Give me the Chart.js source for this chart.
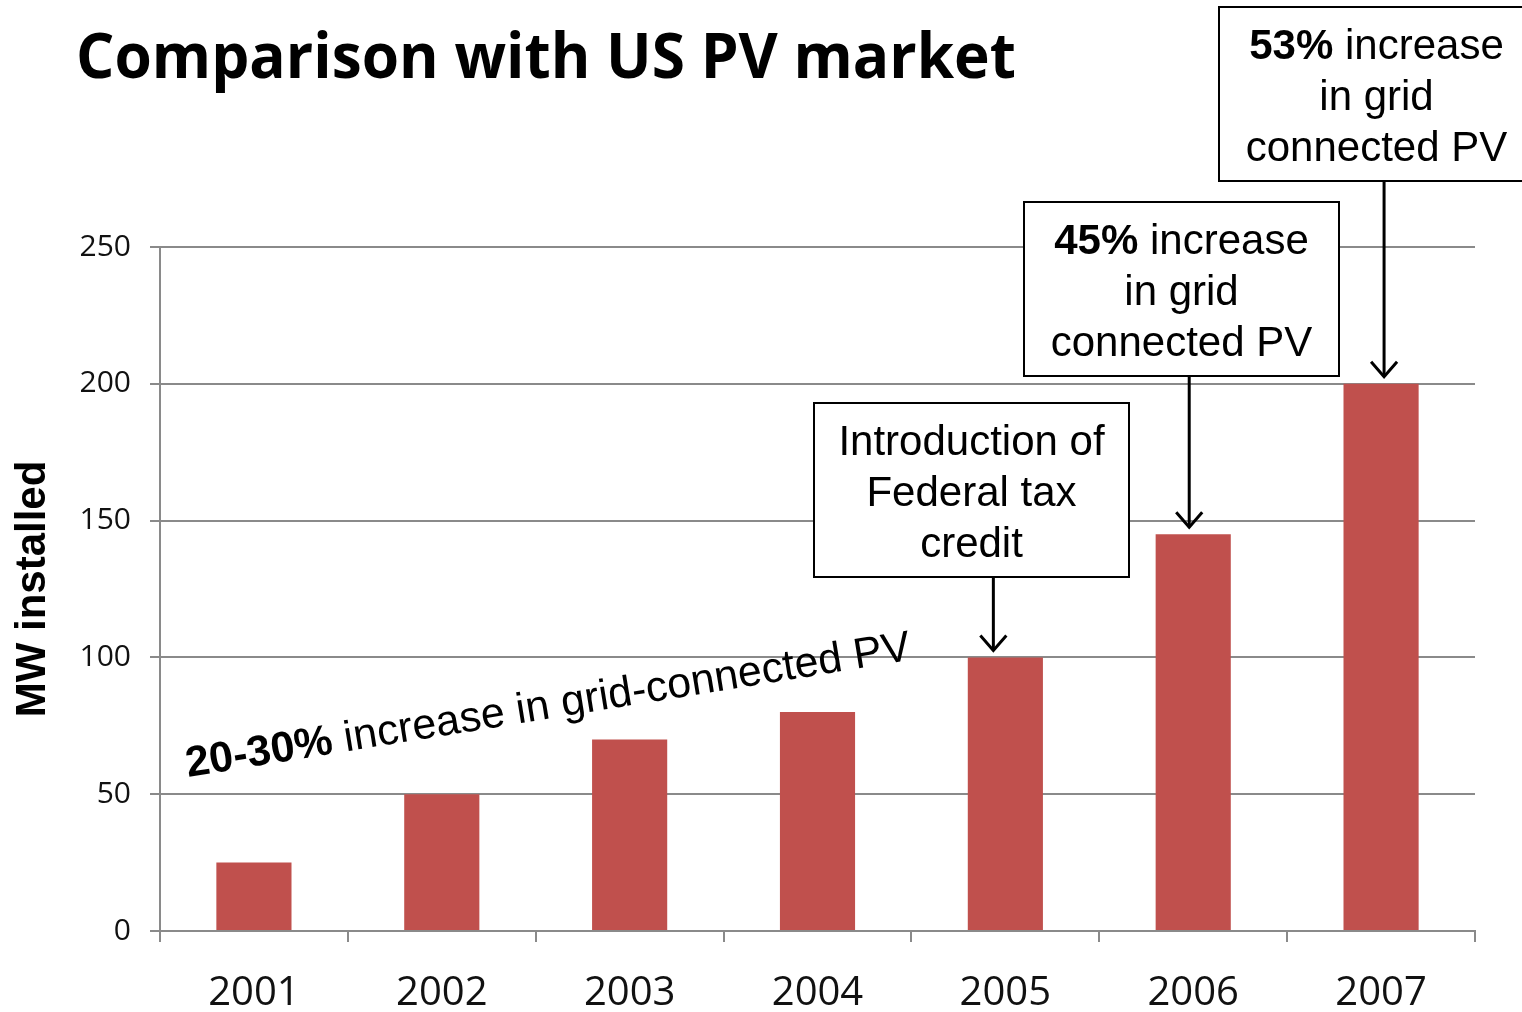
<!DOCTYPE html>
<html>
<head>
<meta charset="utf-8">
<script src="https://cdn.jsdelivr.net/npm/chart.js@4.4.0/dist/chart.umd.min.js"></script>
<style>
  html, body { margin: 0; padding: 0; background: #fff; }
  #wrap { width: 1522px; height: 1012px; position: relative; }
</style>
</head>
<body>
<div id="wrap"><canvas id="chart"></canvas></div>
<script>
    // ==================== DATA ====================
    const years = ['2001', '2002', '2003', '2004', '2005', '2006', '2007'];
    const mwInstalled = [25, 50, 70, 80, 100, 145, 200];
    const yTickValues = [0, 50, 100, 150, 200, 250];

    const chartTitle = 'Comparison with US PV market';
    const yAxisTitle = 'MW installed';
    const trendBold = '20-30%';
    const trendText = ' increase in grid-connected PV';

    // callouts: which year they point at, bold lead-in, then the lines
    const calloutYears = ['2005', '2006', '2007'];
    const calloutBold = ['', '45%', '53%'];
    const calloutLines = [
        ['Introduction of', 'Federal tax', 'credit'],
        [' increase', 'in grid', 'connected PV'],
        [' increase', 'in grid', 'connected PV']
    ];

    // ==================== STYLE ====================
    const BAR_RED = '#C0504D';
    const AXIS_GREY = '#8a8a8a';
    const ANNO_FONT = '"Liberation Sans", Arial, sans-serif';
    const TICK_FONT = '"Open Sans", "Noto Sans", sans-serif';

    // box placement (left, top) and arrow offset from the bar centre
    const boxLayout = [
        { left: 814, top: 403, dx: -12 },
        { left: 1024, top: 202, dx: -4 },
        { left: 1219, top: 7, dx: 3 }
    ];
    const BOX_W = 315, BOX_H = 174;

    function drawArrow(ctx, x, y1, y2) {
        ctx.beginPath();
        ctx.moveTo(x, y1);
        ctx.lineTo(x, y2);
        ctx.stroke();
        ctx.beginPath();
        ctx.moveTo(x - 13, y2 - 15);
        ctx.lineTo(x, y2);
        ctx.lineTo(x + 13, y2 - 15);
        ctx.stroke();
    }

    // draws "bold + regular" centred on cx
    function drawMixed(ctx, bold, text, cx, y, size) {
        ctx.font = `bold ${size}px ${ANNO_FONT}`;
        const wb = bold ? ctx.measureText(bold).width : 0;
        ctx.font = `${size}px ${ANNO_FONT}`;
        const wt = ctx.measureText(text).width;
        let x = cx - (wb + wt) / 2;
        ctx.textAlign = 'left';
        if (bold) {
            ctx.font = `bold ${size}px ${ANNO_FONT}`;
            ctx.fillText(bold, x, y);
            x += wb;
        }
        ctx.font = `${size}px ${ANNO_FONT}`;
        ctx.fillText(text, x, y);
    }

    const annotations = {
        id: 'annotations',
        afterDraw(chart) {
            const ctx = chart.ctx;
            const xs = chart.scales.x, ys = chart.scales.y;
            ctx.save();
            ctx.fillStyle = '#000';
            ctx.textBaseline = 'alphabetic';

            // title
            ctx.font = `bold 63px ${TICK_FONT}`;
            ctx.textAlign = 'left';
            ctx.fillText(chartTitle, 76, 78, 940);

            // callout boxes + arrows
            calloutYears.forEach((yr, i) => {
                const idx = years.indexOf(yr);
                const b = boxLayout[i];
                ctx.fillStyle = '#fff';
                ctx.fillRect(b.left, b.top, BOX_W, BOX_H);
                ctx.strokeStyle = '#000';
                ctx.lineWidth = 2;
                ctx.strokeRect(b.left, b.top, BOX_W, BOX_H);
                ctx.fillStyle = '#000';
                const cx = b.left + BOX_W / 2;
                calloutLines[i].forEach((line, j) => {
                    drawMixed(ctx, j === 0 ? calloutBold[i] : '', line, cx, b.top + 52 + j * 51, 42);
                });
                const ax = xs.getPixelForValue(idx) + b.dx;
                const tip = ys.getPixelForValue(mwInstalled[idx]) - 7;
                ctx.lineWidth = 3;
                drawArrow(ctx, ax, b.top + BOX_H, tip);
            });

            // slanted trend label
            ctx.translate(188, 777);
            ctx.rotate(-9.2 * Math.PI / 180);
            ctx.textAlign = 'left';
            ctx.font = `bold 43px ${ANNO_FONT}`;
            ctx.fillText(trendBold, 0, 0);
            const wb = ctx.measureText(trendBold).width;
            ctx.font = `43px ${ANNO_FONT}`;
            ctx.fillText(trendText, wb, 0);
            ctx.restore();
        }
    };

    // ==================== CHART ====================
    new Chart(document.getElementById('chart'), {
        type: 'bar',
        data: {
            labels: years,
            datasets: [{
                label: yAxisTitle,
                data: mwInstalled,
                backgroundColor: BAR_RED,
                borderWidth: 0,
                categoryPercentage: 1,
                barPercentage: 0.4
            }]
        },
        options: {
            responsive: true,
            maintainAspectRatio: false,
            animation: false,
            layout: { padding: { top: 247, right: 47, left: 0, bottom: 0 } },
            plugins: {
                legend: { display: false },
                tooltip: { enabled: false }
            },
            scales: {
                x: {
                    grid: {
                        offset: true,
                        drawOnChartArea: false,
                        drawTicks: true,
                        tickLength: 11,
                        color: AXIS_GREY,
                        lineWidth: 2
                    },
                    border: { display: true, color: AXIS_GREY, width: 2 },
                    ticks: {
                        color: '#111',
                        font: { family: TICK_FONT, size: 40 },
                        padding: 28,
                        maxRotation: 0
                    },
                    afterFit(scale) { scale.height = 81; }
                },
                y: {
                    min: 0,
                    max: 250,
                    afterBuildTicks(scale) {
                        scale.ticks = yTickValues.map(v => ({ value: v }));
                    },
                    grid: {
                        color: AXIS_GREY,
                        lineWidth: 2,
                        tickLength: 10
                    },
                    border: { display: true, color: AXIS_GREY, width: 2 },
                    ticks: {
                        color: '#111',
                        font: { family: TICK_FONT, size: 30 },
                        padding: 19
                    },
                    title: {
                        display: true,
                        text: yAxisTitle,
                        color: '#000',
                        font: { family: ANNO_FONT, size: 42, weight: 'bold' },
                        padding: { top: 8, bottom: 0 }
                    },
                    afterFit(scale) { scale.width = 160; }
                }
            }
        },
        plugins: [annotations]
    });
</script>
</body>
</html>
